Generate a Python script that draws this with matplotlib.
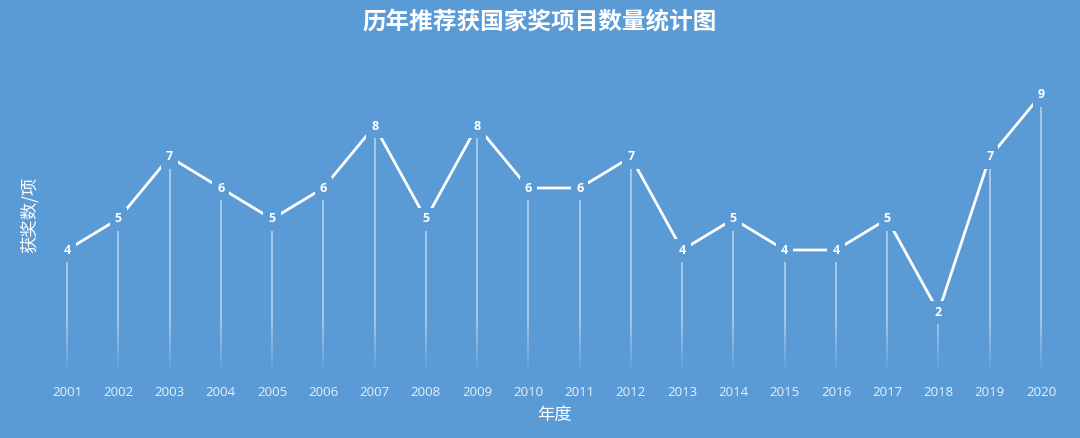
import matplotlib
matplotlib.use("Agg")
import matplotlib.pyplot as plt
import numpy as np
from matplotlib.collections import LineCollection

years = ["2001", "2002", "2003", "2004", "2005", "2006", "2007", "2008", "2009", "2010",
         "2011", "2012", "2013", "2014", "2015", "2016", "2017", "2018", "2019", "2020"]
counts = [4, 5, 7, 6, 5, 6, 8, 5, 8, 6, 6, 7, 4, 5, 4, 4, 5, 2, 7, 9]
title = "历年推荐获国家奖项目数量统计图"
xlabel = "年度"
ylabel = "获奖数/项"

BG = "#5B9BD5"
CJK = ["Noto Sans CJK SC", "DejaVu Sans"]
NUM = ["Open Sans", "DejaVu Sans"]

fig = plt.figure(figsize=(10.8, 4.38), dpi=100, facecolor=BG)
ax = fig.add_axes([0, 0, 1, 1], facecolor=BG)
for s in ax.spines.values():
    s.set_visible(False)
ax.set_xticks([])
ax.set_yticks([])

step = (1041 - 67) / 19
ppu = 31.0
ax.set_xlim(-67 / step, (1080 - 67) / step)
ax.set_ylim(-(438 - 374) / ppu, 374 / ppu)

x = np.arange(len(years))

# drop lines with fading bottom
segs, cols = [], []
for xi, v in zip(x, counts):
    ys = np.linspace(0.05, v, 120)
    for a, b in zip(ys[:-1], ys[1:]):
        segs.append([(xi, a), (xi, b)])
        alpha = 0.55 * min(1.0, ((a + b) / 2) / 1.8)
        cols.append((1, 1, 1, alpha))
ax.add_collection(LineCollection(segs, colors=cols, linewidths=1.2, zorder=1))

# main line
ax.plot(x, counts, color="white", lw=2.0, zorder=2, solid_capstyle="butt")

# data labels with background box to break line
for xi, v in zip(x, counts):
    ax.text(xi, v, str(v), ha="center", va="center", color="white", fontsize=9,
            fontweight="bold", family=NUM, zorder=3,
            bbox=dict(boxstyle="square,pad=0.4", fc=BG, ec="none"))

# year labels
for xi, yr in zip(x, years):
    ax.text(xi, (374 - 392) / ppu, yr, ha="center", va="center", color="#E9F0F8",
            fontsize=9.5, family=NUM)

ax.text(9.5, (374 - 415) / ppu, xlabel, ha="center", va="center", color="white",
        fontsize=12.5, family=CJK)
ax.text(-67 / step + 30 / step, (374 - 215) / ppu, ylabel, ha="center", va="center",
        color="white", fontsize=12.5, rotation=90, family=CJK)
fig.text(0.5, 1 - 22 / 438, title, ha="center", va="center", color="white",
         fontsize=17, fontweight="bold", family=CJK)

fig.savefig("out.png", dpi=100, facecolor=BG)
